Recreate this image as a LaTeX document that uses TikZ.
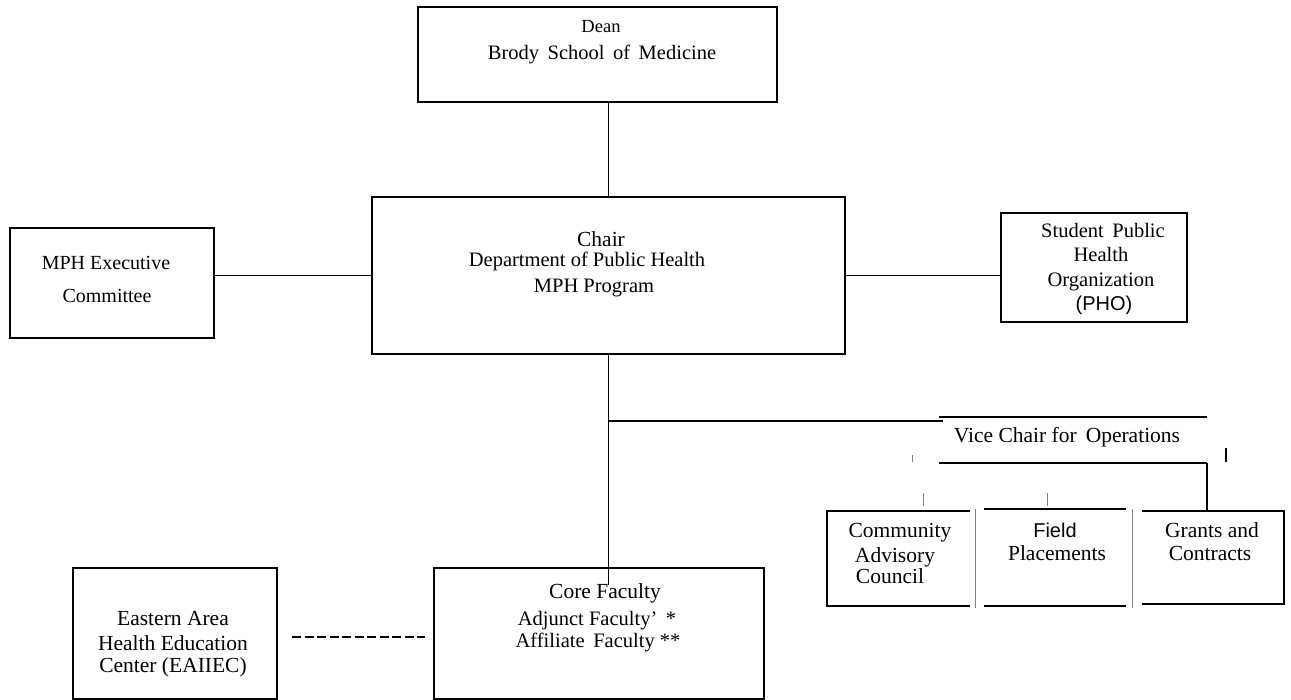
\documentclass[tikz,border=0pt]{standalone}
\usepackage{fontspec}
\setmainfont{Liberation Serif}
\newfontfamily\arialf{Liberation Sans}
\tikzset{
  frame/.style={inner sep=0pt, outer sep=0pt},
  box/.style={frame, draw=black, line width=1.2pt},
  conn/.style={line width=1.2pt, draw=black},
  grayline/.style={draw=black!50, line width=1pt},
  txt/.style={anchor=base, align=center, inner sep=0pt, font=\fontsize{20.5}{22}\selectfont},
  bigtxt/.style={txt, font=\fontsize{21.5}{23}\selectfont},
  smalltxt/.style={txt, font=\fontsize{18.5}{20}\selectfont},
  sanstxt/.style={txt, font=\arialf\fontsize{20}{22}\selectfont}
}
\begin{document}
\begin{tikzpicture}[x=1pt,y=-1pt]
\useasboundingbox (0,0) rectangle (1291,700);

% ---- boxes ----
\node[box, minimum width=359pt, minimum height=95pt] (dean) at (597.5,54.5) {};
\node[box, minimum width=473pt, minimum height=157pt] (chair) at (608.5,275.5) {};
\node[box, minimum width=204pt, minimum height=110pt] (mph) at (112,283) {};
\node[box, minimum width=186pt, minimum height=109pt] (pho) at (1094,267.5) {};
\node[frame, minimum width=268pt, minimum height=46pt] (vice) at (1073,440) {};
\node[frame, minimum width=148pt, minimum height=95pt] (comm) at (901,558.5) {};
\node[frame, minimum width=148pt, minimum height=97pt] (field) at (1058,557.5) {};
\node[frame, minimum width=142pt, minimum height=93pt] (grants) at (1213,557.5) {};
\node[box, minimum width=204pt, minimum height=131pt] (eahec) at (175,633.5) {};
\node[box, minimum width=330pt, minimum height=131pt] (core) at (599,633.5) {};

% partial box outlines
\draw[conn] (vice.north west) -- (vice.north east);
\draw[conn] (vice.south west) -- (vice.south east);
\draw[conn] ([xshift=-5pt]comm.north east) -- (comm.north west) -- (comm.south west) -- ([xshift=-5pt]comm.south east);
\draw[grayline] ([yshift=2pt]comm.north east) -- ([yshift=-2pt]comm.south east);
\draw[conn] (field.north west) -- ([xshift=-6pt]field.north east);
\draw[conn] (field.south west) -- ([xshift=-6pt]field.south east);
\draw[grayline] (field.north east) -- ([yshift=-2pt]field.south east);
\draw[conn] (grants.north west) -- (grants.north east) -- (grants.south east) -- (grants.south west);

% ---- connectors ----
\draw[conn] (dean.south -| chair.north) -- (chair.north);
\draw[conn] (chair.west) -- (chair.west -| mph.east);
\draw[conn] (chair.east) -- (chair.east -| pho.west);
\coordinate (br) at (608.5,421);
\coordinate (cend) at (608.5,585);
\draw[conn] (chair.south) -- (cend);
\draw[conn] (br) -- ([xshift=4pt]br -| vice.west);
\draw[conn] (vice.south east) -- (vice.south east |- grants.north);
\draw[conn, line width=1.4pt, dash pattern=on 9pt off 3.5pt]
  ([xshift=15pt,yshift=-3.5pt]eahec.east) -- ([xshift=-9pt,yshift=-3.5pt]core.west);

% small tick marks
\draw[grayline] (912,455) -- (912,462);
\draw[conn] (1226,448) -- (1226,462);
\draw[grayline] (923,493) -- (923,506);
\draw[grayline] (1047,493) -- (1047,506);

% ---- texts ----
\node[smalltxt] (t1) at (601,33) {Dean};
\node[txt] (t2) at (602,60) {Brody\, School\, of\, Medicine};
\node[bigtxt] (t3) at (601,247) {Chair};
\node[txt] (t4) at (587,267) {Department of Public Health};
\node[txt] (t5) at (594,293) {MPH Program};
\node[txt, font=\fontsize{20}{22}\selectfont] (t6) at (106,270) {MPH Executive};
\node[txt, font=\fontsize{20}{22}\selectfont] (t7) at (107,303) {Committee};
\node[txt] (t8) at (1103,238) {Student\, Public};
\node[txt] (t9) at (1101,262) {Health};
\node[txt] (t10) at (1101,287) {Organization};
\node[sanstxt] (t11) at (1104,311) {(PHO)};
\node[bigtxt] (t12) at (1067,443) {Vice Chair for\, Operations};
\node[bigtxt] (t13) at (900,537) {Community};
\node[bigtxt] (t14) at (895,562) {Advisory};
\node[bigtxt] (t15) at (890,583) {Council};
\node[sanstxt] (t16) at (1055,537) {Field};
\node[bigtxt] (t17) at (1057,560) {Placements};
\node[bigtxt] (t18) at (1212,537) {Grants and};
\node[bigtxt] (t19) at (1210,560) {Contracts};
\node[bigtxt] (t20) at (605,598) {Core Faculty};
\node[txt] (t21) at (597,625) {Adjunct Faculty'\, *};
\node[txt] (t22) at (598,647) {Affiliate\, Faculty **};
\node[bigtxt] (t23) at (173,625) {Eastern Area};
\node[bigtxt] (t24) at (173,650) {Health Education};
\node[bigtxt] (t25) at (173,672) {Center (EAIIEC)};
\end{tikzpicture}
\end{document}
